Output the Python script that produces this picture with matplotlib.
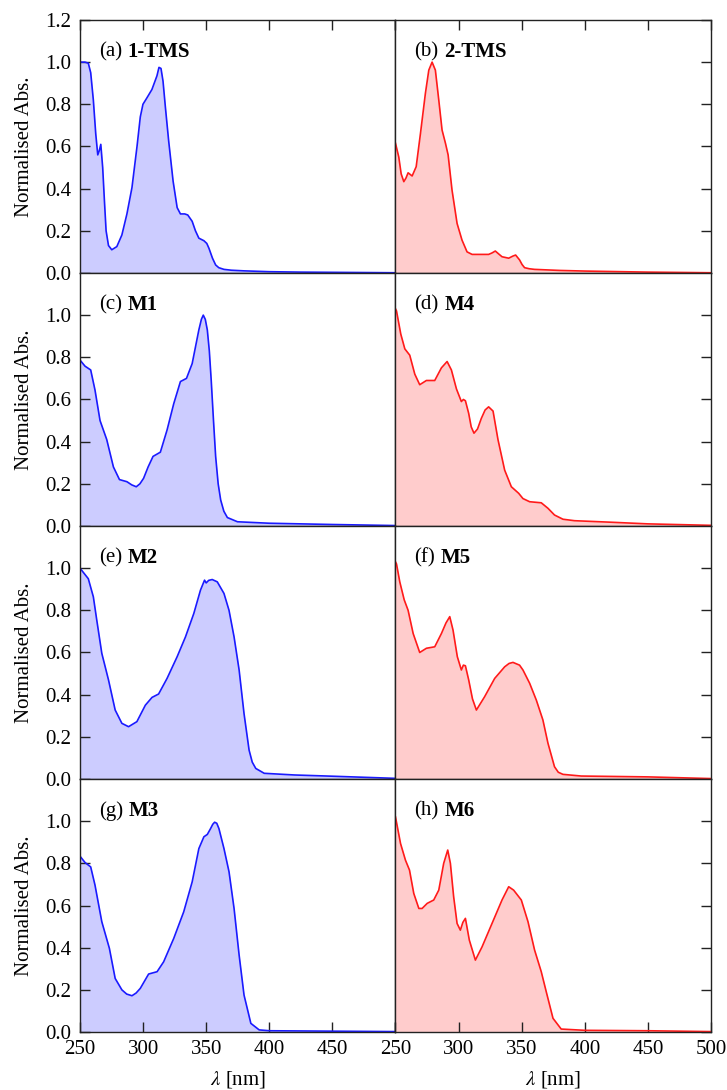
import matplotlib
matplotlib.use("Agg")
import matplotlib.pyplot as plt
from matplotlib.ticker import FormatStrFormatter

plt.rcParams['font.family'] = ['Liberation Serif', 'DejaVu Serif']
plt.rcParams['mathtext.fontset'] = 'stix'

# (a) 1-TMS
wl_a = [250, 254, 256.6, 258.5, 260.6, 262.5, 264.1, 265.3, 266.5, 268, 269.4, 270.7, 272.6,
        275.2, 279.2, 283.2, 287.2, 291.2, 295.2, 297.8, 299.9, 303, 307, 311, 312.6, 314.2,
        315.8, 317.7, 320.3, 323.8, 327, 329.6, 333, 335.4, 338.9, 341.5, 344.2, 348.2, 350.5,
        352.2, 355, 357.5, 360, 364.1, 370, 380, 400, 425, 450, 475, 500]
abs_a = [1.0, 1.0, 0.995, 0.95, 0.82, 0.66, 0.56, 0.58, 0.61, 0.5, 0.34, 0.2, 0.13,
         0.11, 0.125, 0.18, 0.28, 0.405, 0.60, 0.74, 0.80, 0.83, 0.87, 0.935, 0.975, 0.97,
         0.91, 0.785, 0.625, 0.435, 0.31, 0.28, 0.28, 0.275, 0.245, 0.2, 0.165, 0.153, 0.14,
         0.117, 0.07, 0.038, 0.025, 0.017, 0.013, 0.01, 0.006, 0.004, 0.003, 0.002, 0.001]

# (b) 2-TMS
wl_b = [250, 252.6, 254.5, 256.6, 258.3, 260, 263.2, 266.4, 269.8, 273.7, 276.4, 279, 281.6,
        284.3, 286.9, 289.6, 291.7, 294.8, 298.8, 302.7, 306.7, 310.7, 318.6, 323.8, 326.5,
        329.1, 331.8, 334.4, 339.7, 343, 345.2, 348.3, 350.3, 352.3, 356, 360.2, 380, 400,
        450, 500]
abs_b = [0.615, 0.55, 0.47, 0.433, 0.45, 0.475, 0.46, 0.504, 0.662, 0.852, 0.962, 1.0, 0.962,
         0.82, 0.678, 0.615, 0.56, 0.393, 0.235, 0.156, 0.10, 0.088, 0.088, 0.088, 0.095,
         0.104, 0.09, 0.077, 0.07, 0.08, 0.085, 0.062, 0.04, 0.025, 0.02, 0.017, 0.012, 0.009,
         0.004, 0.001]

# (c) M1
wl_c = [250, 254, 258.5, 261.9, 265.9, 271.2, 276.5, 281.3, 287.2, 291, 294.6, 297.5, 300.4,
        304, 307.9, 313.7, 319, 324.3, 329.6, 334.4, 338.9, 344.2, 346.2, 347.7, 349.3, 350.9,
        352.5, 354, 355.8, 357.5, 359.5, 361.5, 364, 366.8, 374.8, 400, 450, 500]
abs_c = [0.787, 0.758, 0.74, 0.645, 0.50, 0.41, 0.28, 0.22, 0.21, 0.195, 0.186, 0.2, 0.226,
         0.28, 0.33, 0.35, 0.455, 0.58, 0.685, 0.70, 0.77, 0.93, 0.98, 1.0, 0.98, 0.93,
         0.83, 0.69, 0.5, 0.33, 0.2, 0.123, 0.07, 0.04, 0.02, 0.013, 0.007, 0.002]

# (d) M4
wl_d = [250, 250.8, 254.2, 257.4, 261.3, 265.3, 269.2, 274.5, 281.1, 286.4, 290.9, 294.3, 298.3,
        302.2, 303.8, 305.4, 308, 310, 312.2, 315, 318, 321, 323.8, 327.3, 331.2, 336.5, 341.8,
        347.6, 351, 356.3, 365.5, 370.8, 376, 382.7, 391.9, 420, 450, 500]
abs_d = [1.03, 1.02, 0.91, 0.84, 0.81, 0.72, 0.67, 0.69, 0.69, 0.75, 0.78, 0.74, 0.65,
         0.59, 0.60, 0.594, 0.534, 0.47, 0.44, 0.46, 0.51, 0.55, 0.565, 0.545, 0.41, 0.265,
         0.186, 0.155, 0.13, 0.115, 0.11, 0.084, 0.052, 0.032, 0.025, 0.018, 0.01, 0.003]

# (e) M2
wl_e = [250, 256.6, 260.6, 263.3, 267.3, 272.6, 277.9, 283.2, 288.5, 295.1, 301.8, 307.1, 312.3,
        319, 327, 333.6, 340.2, 345.5, 348.7, 350, 352, 354.8, 358.8, 364.1, 368.1, 372.1,
        376.1, 380, 384, 386.5, 389.3, 396, 420, 446, 500]
abs_e = [1.0, 0.95, 0.864, 0.754, 0.596, 0.47, 0.327, 0.264, 0.248, 0.272, 0.35, 0.387, 0.403,
         0.477, 0.58, 0.674, 0.785, 0.896, 0.943, 0.93, 0.942, 0.946, 0.935, 0.88, 0.80, 0.674,
         0.517, 0.31, 0.137, 0.08, 0.05, 0.027, 0.019, 0.014, 0.003]

# (f) M5
wl_f = [250, 250.8, 253.4, 256.9, 260, 264, 269.2, 274.5, 281.1, 286.4, 290, 293, 295.6, 299,
        302.2, 303.8, 305.4, 308, 311, 314.1, 320.6, 328.6, 336.5, 340, 343.1, 348.3, 351,
        356.3, 361.6, 366.8, 370.8, 376, 379, 382.7, 397.2, 423.5, 450, 500]
abs_f = [1.03, 1.02, 0.935, 0.85, 0.80, 0.69, 0.60, 0.62, 0.627, 0.69, 0.74, 0.77, 0.706, 0.58,
         0.517, 0.54, 0.537, 0.47, 0.38, 0.327, 0.39, 0.477, 0.532, 0.548, 0.553, 0.54, 0.517,
         0.454, 0.374, 0.28, 0.17, 0.058, 0.032, 0.022, 0.014, 0.012, 0.01, 0.002]

# (g) M3
wl_g = [250, 254, 258.5, 261.9, 267.3, 273.3, 277.9, 283.2, 287, 291.2, 294.5, 297.8, 304.4,
        311.1, 316.3, 324.3, 332.2, 338.9, 344.2, 348.2, 350.9, 353.5, 355.2, 356.7, 358.4,
        360.1, 364.1, 368.1, 372.1, 376.1, 380, 385.4, 392, 400, 450, 500]
abs_g = [0.834, 0.804, 0.783, 0.697, 0.523, 0.397, 0.254, 0.20, 0.18, 0.172, 0.185, 0.207, 0.275,
         0.286, 0.333, 0.444, 0.57, 0.712, 0.87, 0.926, 0.937, 0.965, 0.985, 0.995, 0.99,
         0.965, 0.87, 0.76, 0.586, 0.365, 0.175, 0.041, 0.01, 0.006, 0.004, 0.002]

# (h) M6
wl_h = [250, 254, 257.9, 261.1, 264.5, 268.5, 271.1, 275.1, 280.3, 284.3, 288.2, 291.4, 293.5,
        296.1, 298.8, 301.4, 303.4, 305.4, 308.5, 313.3, 318.6, 326.5, 334.4, 339.7, 343.6,
        349.7, 355, 360.2, 365.5, 369.5, 374.8, 381.3, 400, 450, 500]
abs_h = [1.02, 0.894, 0.815, 0.768, 0.657, 0.586, 0.586, 0.61, 0.626, 0.673, 0.80, 0.863, 0.80,
         0.641, 0.515, 0.483, 0.52, 0.539, 0.436, 0.341, 0.404, 0.515, 0.626, 0.689, 0.673,
         0.626, 0.523, 0.389, 0.286, 0.19, 0.065, 0.014, 0.008, 0.006, 0.002]

letters = ['a', 'b', 'c', 'd', 'e', 'f', 'g', 'h']
names = ['1-TMS', '2-TMS', 'M1', 'M4', 'M2', 'M5', 'M3', 'M6']
spectra = [(wl_a, abs_a), (wl_b, abs_b), (wl_c, abs_c), (wl_d, abs_d),
           (wl_e, abs_e), (wl_f, abs_f), (wl_g, abs_g), (wl_h, abs_h)]

fig, axes = plt.subplots(4, 2, figsize=(7.27, 10.9), dpi=100)
fig.subplots_adjust(left=0.110, right=0.978, top=0.9817, bottom=0.0532,
                    wspace=0, hspace=0)

for i, ax in enumerate(axes.flat):
    row, col = divmod(i, 2)
    wl, ab = spectra[i]
    if col == 0:
        line_c, fill_c = '#1a1aff', '#ccccff'
    else:
        line_c, fill_c = '#ff1a1a', '#ffcccc'
    ax.fill_between(wl, ab, 0, color=fill_c, linewidth=0)
    ax.plot(wl, ab, color=line_c, linewidth=1.2, solid_joinstyle='round')

    ax.set_xlim(250, 500)
    ax.set_ylim(0, 1.2)
    for sp in ax.spines.values():
        sp.set_linewidth(1.0)
        sp.set_color('#222222')

    # x ticks only on the outer edges
    ax.set_xticks([250, 300, 350, 400, 450, 500])
    ax.tick_params(axis='x', direction='in', length=7, width=1, color='#222222',
                   top=(row == 0), bottom=(row == 3), labelbottom=(row == 3),
                   labelsize=15, pad=6)
    if row == 3:
        if col == 0:
            ax.set_xticklabels(['250', '300', '350', '400', '450', ''])
        ax.set_xlabel(r'$\lambda$ [nm]', fontsize=15, labelpad=7)

    # y ticks: left column on the left, right column on the right
    if row == 0:
        ax.set_yticks([0, 0.2, 0.4, 0.6, 0.8, 1.0, 1.2])
    else:
        ax.set_yticks([0, 0.2, 0.4, 0.6, 0.8, 1.0])
    ax.yaxis.set_major_formatter(FormatStrFormatter('%.1f'))
    if col == 0:
        ax.tick_params(axis='y', direction='in', length=7, width=1, color='#222222',
                       left=True, right=False, labelleft=True, labelsize=15, pad=6)
        ax.set_ylabel('Normalised Abs.', fontsize=15, labelpad=8)
    else:
        ax.tick_params(axis='y', direction='in', length=7, width=1, color='#222222',
                       left=False, right=True, labelleft=False, labelright=False)

    t = ax.text(0.06, 0.855, '(%s)' % letters[i], transform=ax.transAxes,
                fontsize=15, va='baseline', ha='left')
    ax.annotate(names[i], xy=(1, 0), xycoords=t, xytext=(4, 0),
                textcoords='offset points', fontsize=15, fontweight='bold',
                va='bottom', ha='left')

fig.align_ylabels(axes[:, 0])
fig.savefig('out.png', dpi=100)
